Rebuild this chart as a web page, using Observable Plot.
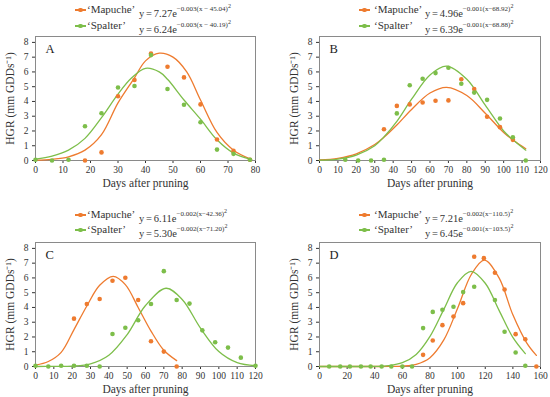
<!DOCTYPE html>
<html><head><meta charset="utf-8">
<script src="https://cdn.jsdelivr.net/npm/d3@7"></script>
<script src="https://cdn.jsdelivr.net/npm/@observablehq/plot@0.6"></script>
<style>
body{margin:0;background:#fff;font-family:"Liberation Serif",serif;color:#333}
#root{position:relative;width:550px;height:397px;overflow:hidden;background:#fff}
.panel{position:absolute;width:275px;height:200px}
.panel svg{position:absolute;left:0;top:30px}
.panel svg, .panel svg text{font-family:"Liberation Serif",serif !important}
.leg{position:absolute;font-size:11px;white-space:nowrap;line-height:1;color:#333}
.eq{font-size:10.5px;word-spacing:-0.8px}
.mk{position:absolute;width:11px;height:1.4px;margin-top:-0.7px}
.mk::after{content:"";position:absolute;left:3.3px;top:-1.6px;width:4.6px;height:4.6px;border-radius:50%;background:inherit}
.leg sup{font-size:7px;position:relative;top:-1px;word-spacing:0}
.leg sup sup{font-size:6px;top:0px}
</style>
</head><body><div id="root"></div>
<script>
const ORANGE = "#EE7B2F", GREEN = "#7DBE4A";
const panelNames = ["A","B","C","D"];
const xMax = [80,120,120,160];
const xTickStep = [10,10,10,20];

// legend equations (text as printed)
const mapucheEq = [["7.27","−0.003(x − 45.04)"],["4.96","−0.001(x−68.92)"],["6.11","−0.002(x−42.36)"],["7.21","−0.002(x−110.5)"]];
const spalterEq = [["6.24","−0.003(x − 40.19)"],["6.39","−0.001(x−68.88)"],["5.30","−0.002(x−71.20)"],["6.45","−0.001(x−103.5)"]];

// observed points
const mapA_days = [18,24,30,36,42,48,54,60,66,72,78];
const mapA_hgr  = [0,0.55,4.35,5.45,7.25,6.35,5.63,3.8,1.42,0.65,0.05];
const spaA_days = [0,6,12,18,24,30,36,42,48,54,60,66,72,78];
const spaA_hgr  = [0.05,0,0.05,2.32,3.2,4.95,5.05,7.14,4.84,3.78,2.59,0.74,0.45,0.05];

const mapB_days = [35,42,49,56,63,70,77,84,91,98,105];
const mapB_hgr  = [2.12,3.7,3.8,3.93,4.05,4.07,5.5,4.84,2.96,2.26,1.4];
const spaB_days = [14,21,28,35,42,49,56,63,70,77,84,91,98,105,112];
const spaB_hgr  = [0.05,0,0,0.05,3.19,5.1,5.54,5.92,6.28,5.2,4.6,4.11,2.85,1.58,0];

const mapC_days = [21,28,35,42,49,56,63,70,77];
const mapC_hgr  = [3.24,4.23,4.57,5.81,6.01,4.5,1.71,1.01,0];
const spaC_days = [0,7,14,21,28,35,42,49,56,63,70,77,84,91,98,105,112,120];
const spaC_hgr  = [0.05,0,0.05,0.05,0.05,0,2.2,2.63,3.13,4.23,6.46,4.5,4.26,2.45,1.64,1.28,0.6,0.05];

const mapD_days = [75,82,89,97,104,112,119,127,134,142,149,157];
const mapD_hgr  = [0.79,1.76,2.8,3.39,4.29,7.43,7.34,6.35,5.22,2.19,1.85,0];
const spaD_days = [7,15,22,30,37,45,52,60,67,75,82,89,97,104,112,127,134,142,149];
const spaD_hgr  = [0,0,0,0,0,0,0,0,0,2.6,3.7,3.84,4.05,5.04,5.4,4.5,2.35,0.95,0.05];

// fitted curves
const mapA_cx = [0,6,12,18,24,30,36,40,45,50,55,60,66,72,78];
const mapA_cy = [0.02,0.08,0.25,0.7,1.75,3.9,5.6,6.75,7.27,7.0,6.0,4.1,1.9,0.7,0.12];
const spaA_cx = [0,6,12,18,24,30,35,40,45,48,54,60,66,72,78];
const spaA_cy = [0.1,0.3,0.7,1.5,2.9,4.5,5.6,6.24,6.0,5.5,4.1,2.8,1.4,0.5,0.1];

const mapB_cx = [0,10,20,30,35,42,50,60,69,80,90,100,106,112];
const mapB_cy = [0.04,0.15,0.45,1.08,1.57,2.4,3.46,4.57,4.96,4.4,3.2,1.9,1.3,0.8];
const spaB_cx = [0,10,20,30,35,42,50,60,69,80,90,100,106,112];
const spaB_cy = [0.02,0.1,0.37,1.0,1.6,2.65,4.15,5.8,6.39,5.5,3.75,2.0,1.3,0.7];

const mapC_cx = [0,7,14,21,28,35,42.4,49,56,63,70,77];
const mapC_cy = [0.1,0.34,0.96,2.5,4.1,5.5,6.11,5.55,4.0,2.4,1.1,0.4];
const spaC_cx = [0,10,20,30,40,50,60,71.2,80,90,100,110,120];
const spaC_cy = [0.0,0.01,0.03,0.18,0.76,2.16,4.13,5.3,4.54,2.6,1.01,0.26,0.05];

const mapD_cx = [0,20,40,50,60,70,80,90,100,110,119.4,130,140,150,157];
const mapD_cy = [0,0,0,0.003,0.025,0.15,0.6,1.8,3.95,6.25,7.21,6.0,3.5,1.6,0.75];
const spaD_cx = [0,20,40,50,60,70,80,90,100,109.8,120,130,140,149];
const spaD_cy = [0,0,0.01,0.06,0.26,0.82,2.04,3.87,5.69,6.45,5.64,3.8,1.97,0.87];

const pts = [
  [mapA_days,mapA_hgr,spaA_days,spaA_hgr],
  [mapB_days,mapB_hgr,spaB_days,spaB_hgr],
  [mapC_days,mapC_hgr,spaC_days,spaC_hgr],
  [mapD_days,mapD_hgr,spaD_days,spaD_hgr]];
const crv = [
  [mapA_cx,mapA_cy,spaA_cx,spaA_cy],
  [mapB_cx,mapB_cy,spaB_cx,spaB_cy],
  [mapC_cx,mapC_cy,spaC_cx,spaC_cy],
  [mapD_cx,mapD_cy,spaD_cx,spaD_cy]];

const pos = [[0,0],[275,0],[0,206],[275,206]];
const root = document.getElementById("root");
const zip = (xs, ys) => xs.map((x,i)=>({x, y: ys[i]}));

panelNames.forEach((name, i) => {
  const div = document.createElement("div");
  div.className = "panel";
  div.style.left = pos[i][0] + "px";
  div.style.top = pos[i][1] + "px";
  root.appendChild(div);
  const left = i % 2 === 0;
  const mkX = left ? 75 : 84, nameX = left ? 87 : 99, eqX = left ? 139 : 150;
  const rows = [["‘Mapuche’", mapucheEq[i], ORANGE], ["‘Spalter’", spalterEq[i], GREEN]];
  const ys = i < 2 ? [10, 26] : [9, 24];
  rows.forEach((r, k) => {
    const mk = document.createElement("div");
    mk.className = "mk"; mk.style.background = r[2];
    mk.style.left = mkX + "px"; mk.style.top = ys[k] + "px";
    div.appendChild(mk);
    const t = document.createElement("div");
    t.className = "leg"; t.style.left = nameX + "px"; t.style.top = (ys[k] - 6) + "px";
    t.textContent = r[0];
    div.appendChild(t);
    const e = document.createElement("div");
    e.className = "leg eq"; e.style.left = eqX + "px"; e.style.top = (ys[k] - 6) + "px";
    e.innerHTML = `y = ${r[1][0]}e<sup>${r[1][1]}<sup>2</sup></sup>`;
    div.appendChild(e);
  });

  const [md, mh, sd, sh] = pts[i];
  const [mcx, mcy, scx, scy] = crv[i];
  const mL = left ? 35 : 44, mR = left ? 20 : 10;
  const chart = Plot.plot({
    width: 275, height: 164,
    marginLeft: mL, marginRight: mR, marginTop: 6, marginBottom: 34,
    style: {fontFamily: '"Liberation Serif", serif', fontSize: "9.5px", color: "#333", background: "transparent"},
    x: {domain: [0, xMax[i]], ticks: d3.range(0, xMax[i] + 1, xTickStep[i]), tickSize: 3, tickPadding: 3, label: null},
    y: {domain: [0, 8.4], ticks: d3.range(0, 9), tickSize: 3, tickPadding: 4, label: null},
    marks: [
      Plot.frame({stroke: "#8a8a8a", strokeWidth: 1}),
      Plot.line(zip(mcx, mcy), {x: "x", y: "y", stroke: ORANGE, strokeWidth: 1.3, curve: "catmull-rom"}),
      Plot.line(zip(scx, scy), {x: "x", y: "y", stroke: GREEN, strokeWidth: 1.3, curve: "catmull-rom"}),
      Plot.dot(zip(md, mh), {x: "x", y: "y", r: 2.3, fill: ORANGE}),
      Plot.dot(zip(sd, sh), {x: "x", y: "y", r: 2.3, fill: GREEN}),
      Plot.text([name], {text: d => d, frameAnchor: "top-left", dx: 10, dy: 12, fontSize: 12.5, fill: "#222", lineAnchor: "middle", textAnchor: "start"}),
      Plot.text(["HGR (mm GDDs⁻¹)"], {text: d => d, frameAnchor: "left", dx: -25, rotate: -90, fontSize: 11.5, fill: "#333", lineAnchor: "middle", textAnchor: "middle"}),
      Plot.text(["Days after pruning"], {text: d => d, frameAnchor: "bottom", dy: 23, fontSize: 11.5, fill: "#333", lineAnchor: "middle"})
    ]
  });
  div.appendChild(chart);
});
</script>
</body></html>
